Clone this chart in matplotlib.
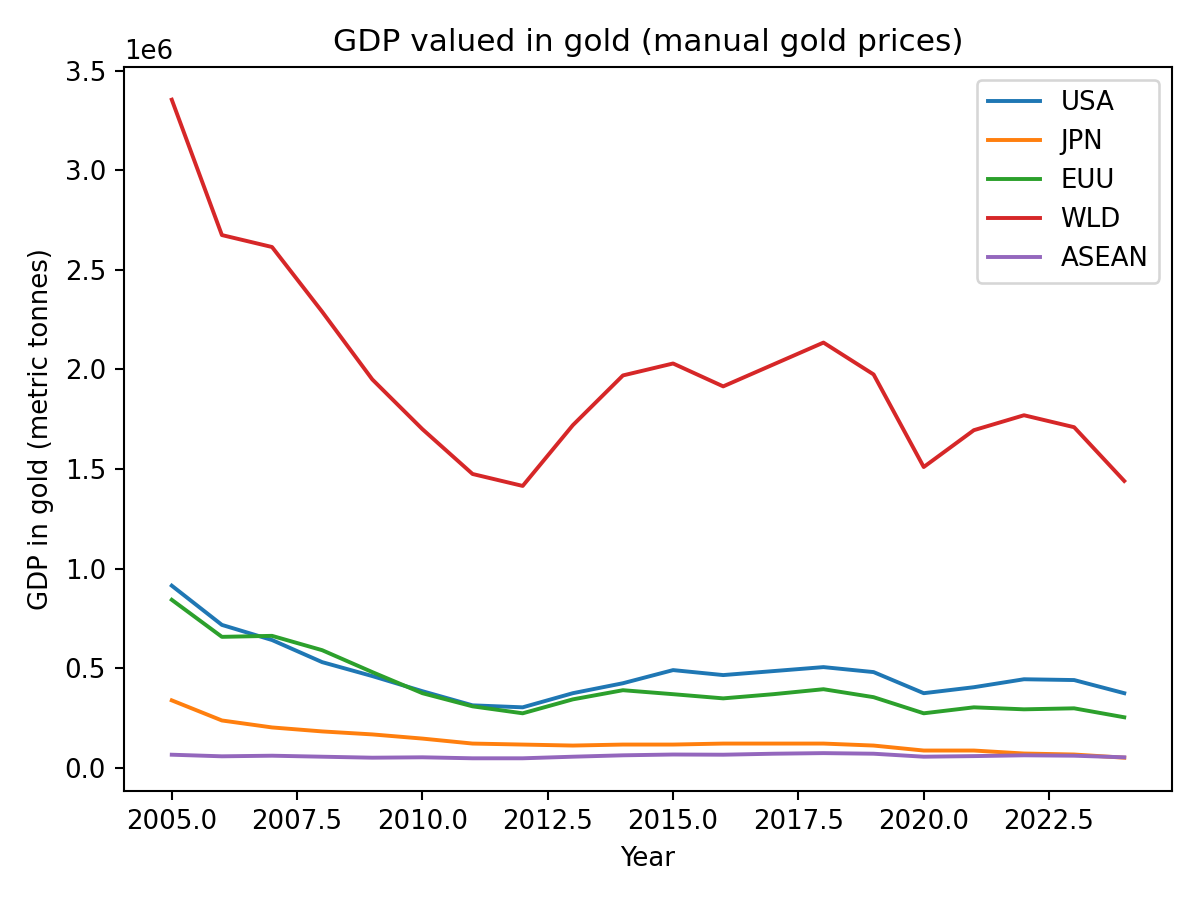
import matplotlib
matplotlib.use("Agg")
import matplotlib.pyplot as plt

years = list(range(2005, 2025))
usa = [0.914, 0.717, 0.641, 0.530, 0.460, 0.384, 0.313, 0.303, 0.374, 0.424,
       0.490, 0.465, 0.485, 0.505, 0.480, 0.374, 0.404, 0.444, 0.440, 0.374]
jpn = [0.338, 0.237, 0.202, 0.182, 0.167, 0.146, 0.121, 0.116, 0.111, 0.116,
       0.116, 0.121, 0.121, 0.121, 0.111, 0.086, 0.086, 0.071, 0.066, 0.050]
euu = [0.843, 0.657, 0.662, 0.590, 0.480, 0.374, 0.308, 0.273, 0.343, 0.389,
       0.369, 0.348, 0.369, 0.394, 0.354, 0.273, 0.303, 0.293, 0.298, 0.253]
wld = [3.355, 2.675, 2.615, 2.29, 1.95, 1.70, 1.475, 1.415, 1.72, 1.97,
       2.03, 1.915, 2.025, 2.135, 1.975, 1.51, 1.695, 1.77, 1.71, 1.44]
asean = [0.065, 0.057, 0.060, 0.055, 0.050, 0.052, 0.047, 0.047, 0.055, 0.062,
         0.066, 0.065, 0.070, 0.073, 0.070, 0.055, 0.058, 0.062, 0.060, 0.052]

series = {"USA": usa, "JPN": jpn, "EUU": euu, "WLD": wld, "ASEAN": asean}

fig, ax = plt.subplots(figsize=(6.4, 4.8), dpi=187.5)
for name, vals in series.items():
    ax.plot(years, [v * 1e6 for v in vals], label=name)
ax.set_title("GDP valued in gold (manual gold prices)")
ax.set_xlabel("Year")
ax.set_ylabel("GDP in gold (metric tonnes)")
ax.legend()
fig.tight_layout()
fig.savefig("out.png")
